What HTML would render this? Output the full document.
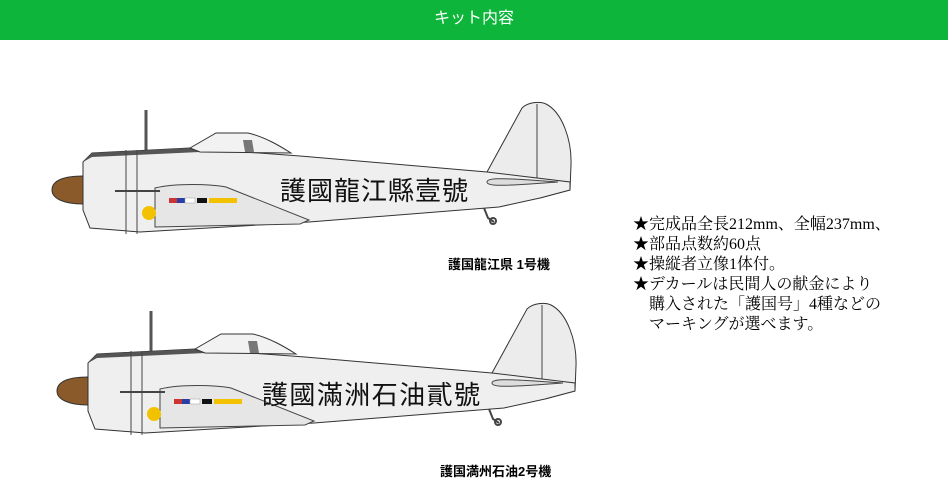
<!DOCTYPE html>
<html><head><meta charset="utf-8"><style>
body{margin:0;width:948px;height:493px;background:#fff;overflow:hidden;position:relative;font-family:"Liberation Sans","Noto Sans CJK JP",sans-serif}
.hdr{position:absolute;left:0;top:0;width:948px;height:40px;background:#0db63b;color:#fff;font-size:16px;text-align:center;line-height:38px}
.txt{position:absolute;left:633px;top:215px;font-family:"Liberation Serif","Noto Serif CJK SC",serif;font-size:16px;line-height:20px;color:#000;white-space:pre}
.lbl{position:absolute;font-size:13px;font-weight:bold;color:#000}
</style></head><body>
<div class="hdr">キット内容</div>
<svg width="948" height="493" style="position:absolute;left:0;top:0">
<defs>
<g id="plane">
 <line x1="146" y1="110" x2="146" y2="150" stroke="#555" stroke-width="3"/>
 <path d="M487,172 L522,108 C528,102 540,101 546,104 C562,112 572,140 571,165 L570,190 L540,198 Z" fill="#ececec" stroke="#333"/>
 <line x1="537" y1="104" x2="537" y2="195" stroke="#444"/>
 <path d="M83,162 L92,153 L190,148 L300,156 L487,172 L570,182 L570,190 L540,198 L499,207 L309,222 L140,232 L90,228 L83,210 Z" fill="#efefef" stroke="#333"/>
 <path d="M83,162 L92,153 L190,148 L200,152 L92,157 Z" fill="#555"/>
 <path d="M190,148 L216,133 L248,133 C265,137 280,146 291,153 L200,152 Z" fill="#f2f2f2" stroke="#333"/>
 <path d="M243,140 L252,140 L254,152 L245,152 Z" fill="#777"/>
 <path d="M155,188 C175,183 210,184 226,187 L309,220 L300,224 L155,227 Z" fill="#e6e6e6" stroke="#444"/>
 <path d="M52,190 C52,180 65,176 83,176 L83,204 C65,204 52,199 52,190 Z" fill="#8a5a2a" stroke="#333"/>
 <line x1="126" y1="150" x2="126" y2="234" stroke="#444"/><line x1="137" y1="150" x2="137" y2="234" stroke="#444"/>
 <rect x="169" y="198" width="8" height="5" fill="#c33"/><rect x="177" y="198" width="8" height="5" fill="#2a3ea8"/><rect x="185" y="198" width="10" height="5" fill="#fff" stroke="#999" stroke-width=".5"/><rect x="197" y="198" width="10" height="5" fill="#111"/><rect x="209" y="198" width="28" height="5" fill="#f2c200"/>
 <circle cx="149" cy="213" r="7" fill="#f2c200"/>
 <line x1="115" y1="191" x2="160" y2="191" stroke="#444" stroke-width="2"/>
 <path d="M484,208 L488,218 L494,222" fill="none" stroke="#444" stroke-width="2"/><circle cx="493" cy="221" r="3" fill="none" stroke="#444" stroke-width="2"/>
 <path d="M487,182 C487,178 500,178 530,180 L558,182 L530,184 C500,186 487,186 487,182 Z" fill="#ddd" stroke="#444"/>
</g>
</defs>
<use href="#plane"/>
<use href="#plane" transform="translate(5,201)"/>
<text x="280" y="200" font-size="26" font-family="Noto Sans CJK JP,sans-serif" fill="#111" textLength="188">護國龍江縣壹號</text>
<text x="262" y="404" font-size="26" font-family="Noto Sans CJK JP,sans-serif" fill="#111" textLength="218">護國滿洲石油貳號</text>
</svg>
<div class="lbl" style="left:448px;top:254px">護国龍江県 1号機</div>
<div class="lbl" style="left:440px;top:461px">護国満州石油2号機</div>
<div class="txt">★完成品全長212mm、全幅237mm、
★部品点数約60点
★操縦者立像1体付。
★デカールは民間人の献金により
　購入された「護国号」4種などの
　マーキングが選べます。</div>
</body></html>
